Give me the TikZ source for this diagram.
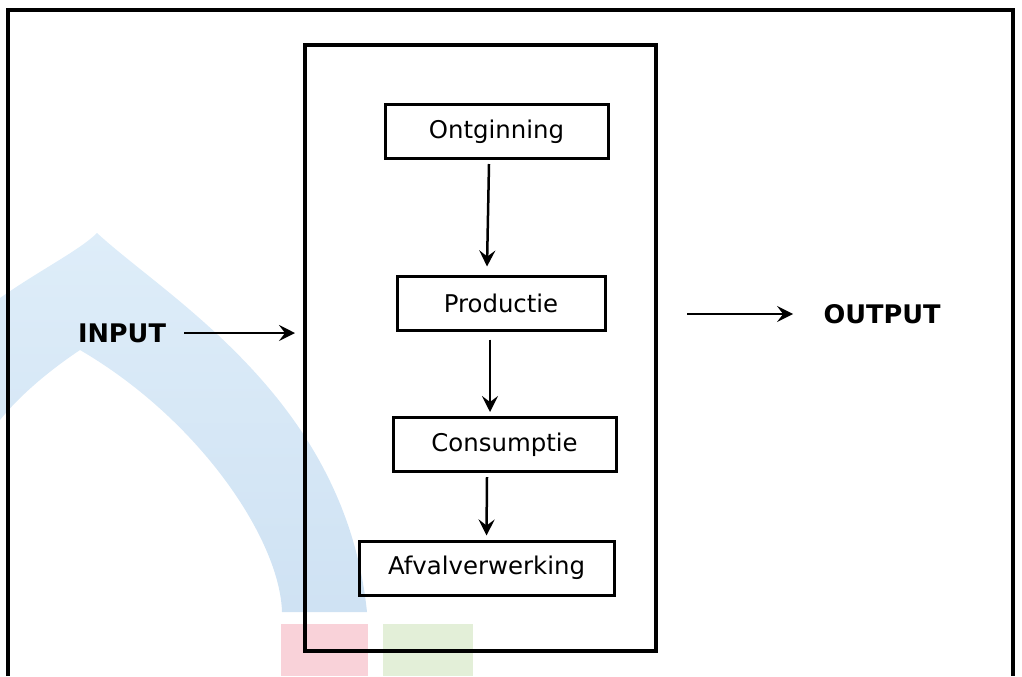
\documentclass[tikz,border=0pt]{standalone}
\usepackage{fontspec}
\setmainfont{DejaVu Sans}
\usetikzlibrary{arrows.meta}
\definecolor{wmblauw}{RGB}{207,226,243}
\definecolor{wmlicht}{RGB}{222,237,249}
\definecolor{wmrood}{RGB}{249,210,217}
\definecolor{wmgroen}{RGB}{227,239,216}
\tikzset{
  blok/.style={draw=black, line width=1.5pt, minimum height=27pt, inner sep=0pt, font=\fontsize{12.2}{14}\selectfont},
  kop/.style={inner sep=0pt, font=\fontsize{12.8}{15}\selectfont\bfseries},
  pijl/.style={draw=black, line width=1.25pt, -{Stealth[length=8pt,width=8pt,inset=3pt]}}
}
\begin{document}
\begin{tikzpicture}[x=0.5pt,y=-0.5pt]
    \useasboundingbox (0,0) rectangle (1022,676);
    % watermerk
    \shade[top color=wmlicht, bottom color=wmblauw] (0,298) .. controls (40,270) and (80,250) .. (97,233)
        .. controls (170,300) and (345,400) .. (367,612) -- (282,612)
        .. controls (280,540) and (200,420) .. (80,350)
        .. controls (50,370) and (20,395) .. (0,420) -- cycle;
    \fill[wmrood] (281,624) rectangle (368,676);
    \fill[wmgroen] (383,624) rectangle (473,676);
    % kader
    \draw[draw=black, line width=1.6pt] (8,676) -- (8,10) -- (1013,10) -- (1013,676);
    \node[draw=black, line width=1.6pt, minimum width=175.5pt, minimum height=303pt] (systeem) at (480.5,348) {};
    \foreach \naam/\tekst/\px/\py/\w in {ontginning/Ontginning/496.5/131.5/111.5,
        productie/Productie/501/303/104, consumptie/Consumptie/504.5/444.5/111.5,
        afval/Afvalverwerking/486.5/568/127.5}
        \node[blok, minimum width=\w pt] (\naam) at (\px,\py) {\tekst};

    \draw[pijl] ([xshift=-3.75pt,yshift=-2pt]ontginning.south) -- ([xshift=-7pt,yshift=4pt]productie.north);
    \draw[pijl] ([xshift=-5.5pt,yshift=-4pt]productie.south) -- ([xshift=-7.25pt,yshift=2pt]consumptie.north);
    \draw[pijl] ([xshift=-8.75pt,yshift=-2pt]consumptie.south) -- ([yshift=2pt]afval.north);

    \node[kop] (input) at (122,333) {INPUT};
    \coordinate (inEnd) at (295,333);
    \draw[pijl] ([xshift=9pt]input.east) -- (inEnd);
    \node[kop] (output) at (882,314) {OUTPUT};
    \coordinate (outStart) at (687,314);
    \draw[pijl] (outStart) -- ([xshift=-15pt]output.west);
\end{tikzpicture}
\end{document}
